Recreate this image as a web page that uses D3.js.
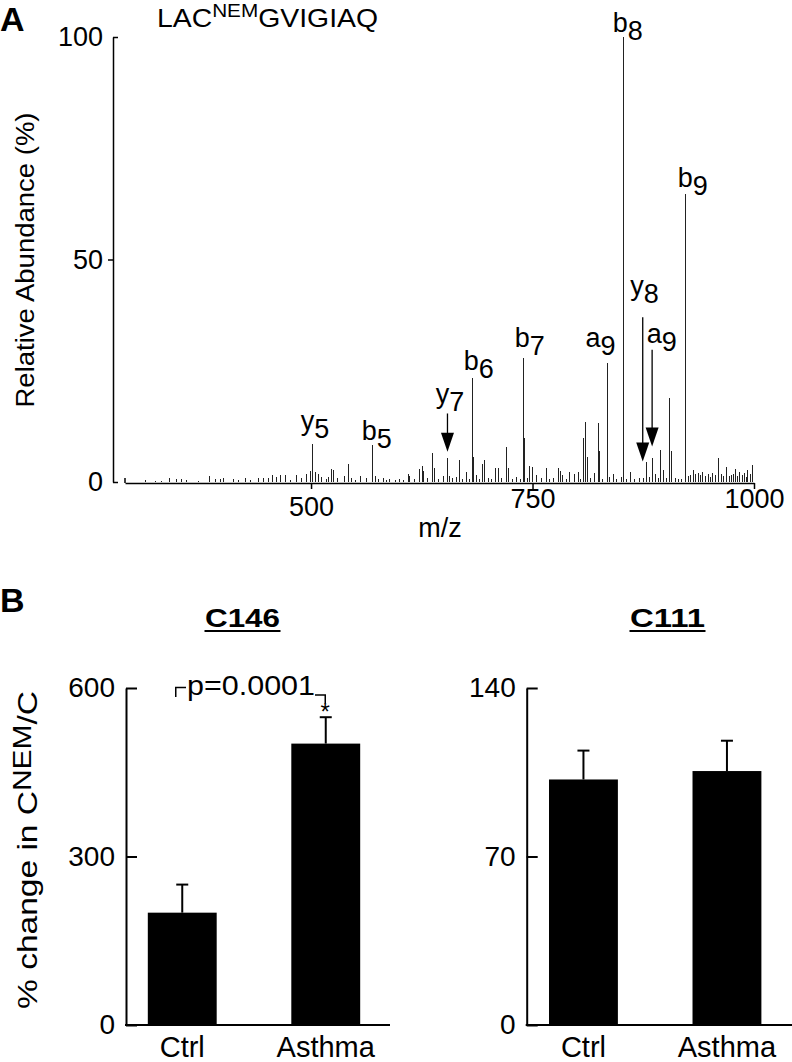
<!DOCTYPE html>
<html><head><meta charset="utf-8">
<script src="https://cdn.jsdelivr.net/npm/d3@7"></script>
<style>
body{margin:0;background:#fff}
svg{display:block}
</style></head><body>
<svg id="chart" width="792" height="1062"></svg>
<script>
// ---------- Panel A data : MS/MS spectrum ----------
const spectrumMz = [312.8,324,331.6,339.9,348.5,354.2,359.8,372.9,385.3,391.7,397.4,401.1,412.4,418,425.6,431.2,440.6,446.2,451.8,456.8,461.3,465.8,470.7,476.3,483.9,489.5,495.2,498.9,502,504.5,508.2,512.1,517,520,
523.3,525.2,530,538.3,542.1,545.9,550,555.3,562.8,569,572.2,576,581.5,585,589.1,595,600.4,604,609.7,611.6,617,622.9,625.5,627.4,632,637.2,639.8,644,649.2,654,656.8,660,664.3,668,671,675.6,679,682.7,683.9,686.9,690,693.6,695.5,700,704,708.3,711.2,715,720.7,722.5,727,732,736,739.5,740.6,744,747,750.1,754.6,
760.2,765.8,769,773.3,778.9,781.6,783.9,788,792.1,797.7,801.5,804,807.1,809.8,811.6,815,820.3,824.5,825.6,829,834.6,837.2,841.7,845,850.4,852.2,856,860.5,865,871,875,878.6,882,885,889.1,892,894.7,897.4,901,904.1,906.8,911.6,915,918.1,922.6,926,928.5,931.2,934.2,936.8,939.5,942.4,945,948.1,951,953.7,956.5,959.4,963.2,966,969.5,972,974.4,977,979.3,981.5,983.8,986.5,989.4,991.5,993.2,996,998.8];
const spectrumAbundance = [0.4,0.2,0.2,1.0,0.6,0.6,0.5,0.3,1.3,0.7,0.7,0.8,0.7,0.5,1.0,0.4,0.8,0.8,1.0,1.5,1.1,1.6,1.5,0.5,1.5,0.8,1.9,2.5,8.5,2.3,1.7,1.1,0.6,1.2,
3.0,2.8,0.8,1.4,4.1,1.0,0.5,1.4,0.8,8.3,1.4,0.6,1.0,0.5,0.6,0.4,0.6,0.5,1.7,1.4,0.6,2.9,3.6,2.5,0.8,6.6,3.1,0.7,1.4,5.5,1.4,0.8,1.1,5.0,0.6,2.3,0.6,23.4,5.6,1.5,0.6,4.1,4.9,0.8,0.6,3.2,3.1,0.8,7.9,3.1,0.7,1.2,0.6,27.8,10,1.0,3.5,3.4,1.5,
0.8,3.2,0.6,1.0,3.2,2.4,1.5,0.6,2.3,1.8,2.3,0.7,9.9,13.5,5.6,0.8,2.1,13.3,6.9,0.7,26.7,1.1,1.9,0.6,1.2,100,0.7,2.3,0.6,0.8,0.9,4.5,1.2,5.3,1.9,0.8,7.3,2.6,0.9,18.8,7.0,0.8,0.6,0.6,64.7,1.3,1.6,2.6,1.8,2.1,1.5,2.3,1.4,1.7,1.2,2.1,1.6,5.4,1.9,1.3,3.4,1.4,1.5,1.7,2.9,1.4,2.3,1.6,2.1,1.2,2.6,1.8,3.9];

// ion labels
const ionLetter = ["y","b","y","b","b","a","b","y","a","b"];
const ionNumber = ["5","5","7","6","7","9","8","8","9","9"];
const ionLabelMz = [504.5,574.1,656.8,689.2,747,826.8,857.5,876.3,895.8,930.8];
const ionLabelLevel = [11.7,9.4,17.7,25.2,30.4,30.4,101.2,42.0,31.2,66.4];

// arrows (m/z, tail level, tip level)
const arrowMz = [654, 874.4, 885];
const arrowTail = [15.4, 37.0, 29.7];
const arrowTip = [6.8, 4.6, 8.0];

const mzTicks = [500, 750, 1000];
const abundanceTicks = [0, 50, 100];

// ---------- Panel B data ----------
const categories = ["Ctrl", "Asthma"];
const c146Mean = [200, 501];
const c146Error = [50, 47];
const c146Ticks = [0, 300, 600];
const c111Mean = [102, 105.5];
const c111Error = [12, 12.6];
const c111Ticks = [0, 70, 140];

const FONT = '"Liberation Sans", Arial, Helvetica, sans-serif';
const svg = d3.select("#chart").attr("font-family", FONT);

// ================= Panel A =================
const xA = d3.scaleLinear().domain([290, 1000]).range([125, 754]);
const yA = d3.scaleLinear().domain([0, 100]).range([482, 37]);
const gA = svg.append("g");

gA.append("text").attr("x", 0).attr("y", 31).attr("font-size", 34).attr("font-weight", "bold").text("A");

// peptide title
const title = gA.append("text").attr("x", 157).attr("y", 27).attr("font-size", 26)
  .attr("textLength", 221).attr("lengthAdjust", "spacingAndGlyphs");
title.append("tspan").text("LAC");
title.append("tspan").attr("font-size", 19).attr("dy", -10).text("NEM");
title.append("tspan").attr("dy", 10).text("GVIGIAQ");

// peaks
gA.append("g").selectAll("line").data(spectrumMz).join("line")
  .attr("x1", d => xA(d)).attr("x2", d => xA(d))
  .attr("y1", yA(0)).attr("y2", (d, i) => yA(spectrumAbundance[i]))
  .attr("stroke", "#222").attr("stroke-width", 1).attr("shape-rendering", "crispEdges");

// y axis
const yAxA = gA.append("g").attr("transform", "translate(113,0)")
  .call(d3.axisLeft(yA).tickValues(abundanceTicks).tickSizeInner(-5).tickSizeOuter(0).tickPadding(10));
yAxA.attr("font-family", FONT).attr("font-size", 27);
yAxA.selectAll("path,line").attr("stroke", "#000").attr("stroke-width", 1.5);
yAxA.selectAll(".tick").filter(d => d === 50).select("line").attr("x2", -5);
yAxA.selectAll("text").attr("fill", "#000");

// x axis
const xAxA = gA.append("g").attr("transform", "translate(0,483)")
  .call(d3.axisBottom(xA).tickValues(mzTicks).tickFormat(d3.format("d")).tickSize(6).tickSizeOuter(0).tickPadding(8));
xAxA.attr("font-family", FONT).attr("font-size", 27);
xAxA.selectAll("path,line").attr("stroke", "#000").attr("stroke-width", 1.5);
xAxA.selectAll("text").attr("fill", "#000").attr("dy", d => d === 500 ? "0.71em" : "0.42em");
xAxA.append("line").attr("x1", xA.range()[0]).attr("x2", xA.range()[0]).attr("y1", 0).attr("y2", -5)
  .attr("stroke", "#000").attr("stroke-width", 1.5);

gA.append("text").attr("x", 440).attr("y", 537).attr("text-anchor", "middle").attr("font-size", 27).text("m/z");

// y label
gA.append("text").attr("transform", "translate(34,260) rotate(-90)").attr("text-anchor", "middle")
  .attr("font-size", 26).attr("textLength", 295).attr("lengthAdjust", "spacingAndGlyphs")
  .text("Relative Abundance (%)");

// ion labels
gA.append("g").selectAll("text").data(ionLetter).join("text")
  .attr("x", (d, i) => xA(ionLabelMz[i])).attr("y", (d, i) => yA(ionLabelLevel[i]))
  .attr("text-anchor", "middle").attr("font-size", 27)
  .each(function (d, i) {
    const t = d3.select(this);
    t.append("tspan").text(d);
    t.append("tspan").attr("dy", 8).text(ionNumber[i]);
  });

// arrows
const headLen = 19, headHalf = 6.5;
const gArr = gA.append("g");
arrowMz.forEach((m, i) => {
  const x = xA(m), yt = yA(arrowTail[i]), yp = yA(arrowTip[i]);
  gArr.append("line").attr("x1", x).attr("x2", x).attr("y1", yt).attr("y2", yp - headLen + 1)
    .attr("stroke", "#000").attr("stroke-width", 1.3);
  gArr.append("path").attr("d", `M${x - headHalf},${yp - headLen}L${x + headHalf},${yp - headLen}L${x},${yp}Z`)
    .attr("fill", "#000");
});

// ================= Panel B =================
svg.append("text").attr("x", 0).attr("y", 612).attr("font-size", 34).attr("font-weight", "bold").text("B");

function barPanel(cfg) {
  const y = d3.scaleLinear().domain([0, cfg.max]).range([1025, 688]);
  const x = d3.scaleBand().domain(categories).range(cfg.band).paddingInner(0.52).paddingOuter(0.26);
  const g = svg.append("g");
  const cx = i => x(categories[i]) + x.bandwidth() / 2;

  g.selectAll("rect").data(cfg.mean).join("rect")
    .attr("x", (d, i) => x(categories[i])).attr("width", x.bandwidth())
    .attr("y", d => y(d)).attr("height", d => y(0) - y(d)).attr("fill", "#000");

  g.selectAll("line.err").data(cfg.mean).join("line").attr("class", "err")
    .attr("x1", (d, i) => cx(i)).attr("x2", (d, i) => cx(i))
    .attr("y1", d => y(d)).attr("y2", (d, i) => y(d + cfg.err[i]))
    .attr("stroke", "#000").attr("stroke-width", 2);
  g.selectAll("line.cap").data(cfg.mean).join("line").attr("class", "cap")
    .attr("x1", (d, i) => cx(i) - 6).attr("x2", (d, i) => cx(i) + 6)
    .attr("y1", (d, i) => y(d + cfg.err[i])).attr("y2", (d, i) => y(d + cfg.err[i]))
    .attr("stroke", "#000").attr("stroke-width", 2);

  const ax = g.append("g").attr("transform", `translate(${cfg.axisX},0)`)
    .call(d3.axisLeft(y).tickValues(cfg.ticks).tickSizeInner(-11).tickSizeOuter(0).tickPadding(11));
  ax.attr("font-family", FONT).attr("font-size", 28);
  ax.selectAll("path,line").attr("stroke", "#000").attr("stroke-width", 2);
  ax.selectAll("text").attr("fill", "#000");

  g.append("line").attr("x1", cfg.axisX - 1).attr("x2", cfg.xEnd).attr("y1", y(0)).attr("y2", y(0))
    .attr("stroke", "#000").attr("stroke-width", 2);

  g.selectAll("text.cat").data(categories).join("text").attr("class", "cat")
    .attr("x", (d, i) => cx(i)).attr("y", 1057).attr("text-anchor", "middle")
    .attr("font-size", 29).text(d => d);

  g.append("text").attr("x", cfg.titleX).attr("y", 627).attr("text-anchor", "middle")
    .attr("font-size", 26).attr("font-weight", "bold").attr("textLength", 75)
    .attr("lengthAdjust", "spacingAndGlyphs").text(cfg.title);
  g.append("line").attr("x1", cfg.titleX - 38).attr("x2", cfg.titleX + 38).attr("y1", 631).attr("y2", 631)
    .attr("stroke", "#000").attr("stroke-width", 2);
  return { x, y, cx, g };
}

const left = barPanel({ title: "C146", mean: c146Mean, err: c146Error, max: 600, ticks: c146Ticks,
  axisX: 126, xEnd: 390, band: [110.5, 397.5], titleX: 242.5 });
barPanel({ title: "C111", mean: c111Mean, err: c111Error, max: 140, ticks: c111Ticks,
  axisX: 526.7, xEnd: 792, band: [511.7, 798.7], titleX: 667.5 });

// significance bracket
{
  const lx = left.cx(0) - 6.5, rx = left.cx(1) - 0.5;
  const g = left.g;
  g.append("path").attr("d", `M${lx},697V687.5H186`).attr("fill", "none").attr("stroke", "#000").attr("stroke-width", 1.5);
  g.append("path").attr("d", `M315,695H${rx}V703.5`).attr("fill", "none").attr("stroke", "#000").attr("stroke-width", 1.5);
  g.append("text").attr("x", 187).attr("y", 695).attr("font-size", 28).attr("textLength", 128)
    .attr("lengthAdjust", "spacingAndGlyphs").text("p=0.0001");
  g.append("text").attr("x", rx).attr("y", 720).attr("text-anchor", "middle").attr("font-size", 24).text("*");
}

// y label panel B
{
  const t = svg.append("text").attr("transform", "translate(37,850) rotate(-90)").attr("text-anchor", "middle")
    .attr("font-size", 28).attr("textLength", 318).attr("lengthAdjust", "spacingAndGlyphs");
  t.append("tspan").text("% change in C");
  t.append("tspan").attr("dy", -6).attr("font-size", 25).text("NEM");
  t.append("tspan").attr("dy", 6).text("/C");
}
</script>
</body></html>
